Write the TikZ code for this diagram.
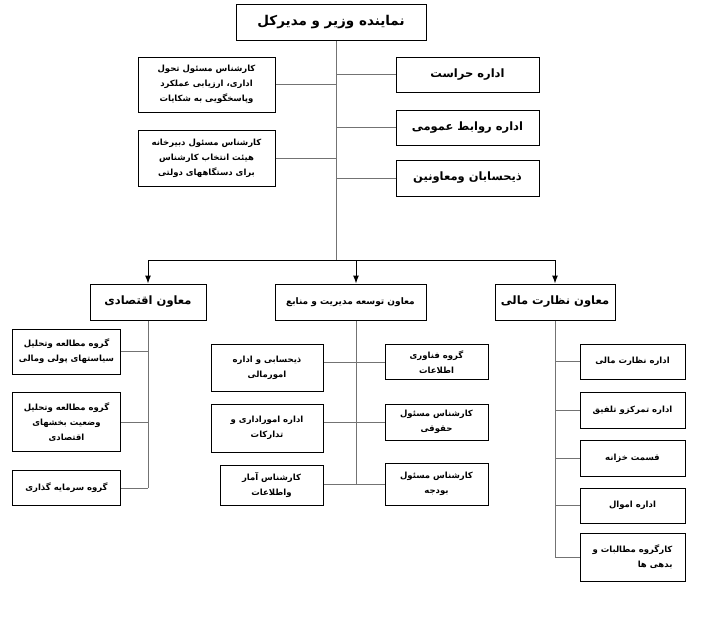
\documentclass[tikz,border=0pt]{standalone}
\usepackage{fontspec}
\usetikzlibrary{arrows.meta}
\newfontfamily\fafont[Script=Arabic]{DejaVu Sans}
\TeXXeTstate=1
\newcommand{\fa}[1]{\beginR #1\endR}
\tikzset{
  box/.style={draw, line width=1pt, align=center, inner sep=2pt},
  big/.style={font=\fafont\bfseries\fontsize{13.5}{16}\selectfont},
  mid/.style={font=\fafont\bfseries\fontsize{11.5}{15}\selectfont},
  small/.style={font=\fafont\bfseries\fontsize{8.5}{15}\selectfont},
  link/.style={draw=black!55, line width=1pt},
  bus/.style={draw=black, line width=1pt},
}

\begin{document}
\begin{tikzpicture}[x=1pt, y=-1pt]
\useasboundingbox (0,0) rectangle (705,621);

% Head
\node[box, big, minimum width=190pt, minimum height=36pt] (head) at (331,22) {\fa{نماینده وزیر و مدیرکل}};

% Staff on the left
\node[box, small, minimum width=137pt, minimum height=55pt] (tahavol) at (206.5,84.5)
  {\fa{کارشناس مسئول تحول}\\\fa{اداری، ارزیابی عملکرد}\\\fa{وپاسخگویی به شکایات}};
\node[box, small, minimum width=137pt, minimum height=56pt] (dabir) at (206.5,158)
  {\fa{کارشناس مسئول دبیرخانه}\\\fa{هیئت انتخاب کارشناس}\\\fa{برای دستگاههای دولتی}};

% Staff on the right
\node[box, mid, minimum width=143pt, minimum height=35pt] (herasat) at (467.5,74.5) {\fa{اداره حراست}};
\node[box, mid, minimum width=143pt, minimum height=35pt] (ravabet) at (467.5,127.5) {\fa{اداره روابط عمومی}};
\node[box, mid, minimum width=143pt, minimum height=36pt] (zihesab) at (467.5,178) {\fa{ذیحسابان ومعاونین}};

% Deputies
\node[box, mid, minimum width=116pt, minimum height=36pt] (eghtesadi) at (148,302) {\fa{معاون اقتصادی}};
\node[box, font=\fafont\bfseries\fontsize{9}{12}\selectfont, minimum width=151pt, minimum height=36pt] (tose) at (350.5,302) {\fa{معاون توسعه مدیریت و منابع}};
\node[box, mid, minimum width=120pt, minimum height=36pt] (nezarat) at (555,302) {\fa{معاون نظارت مالی}};

% Economic groups
\node[box, small, minimum width=108pt, minimum height=45pt] (motalee) at (66.5,351.5)
  {\fa{گروه مطالعه وتحلیل}\\\fa{سیاستهای پولی ومالی}};
\node[box, small, minimum width=108pt, minimum height=59pt] (vazeiat) at (66.5,422)
  {\fa{گروه مطالعه وتحلیل}\\\fa{وضعیت بخشهای}\\\fa{اقتصادی}};
\node[box, small, minimum width=108pt, minimum height=35pt] (sarmaye) at (66.5,488) {\fa{گروه سرمایه گذاری}};

% Management units
\node[box, small, minimum width=112pt, minimum height=47pt] (zihesabi) at (267,368)
  {\fa{ذیحسابی و اداره}\\\fa{امورمالی}};
\node[box, small, minimum width=112pt, minimum height=48pt] (omur) at (267,428)
  {\fa{اداره اموراداری و}\\\fa{تدارکات}};
\node[box, small, minimum width=103pt, minimum height=40pt] (amar) at (271.5,485)
  {\fa{کارشناس آمار}\\\fa{واطلاعات}};
\node[box, small, minimum width=103pt, minimum height=35pt] (fanavari) at (436.5,362)
  {\fa{گروه فناوری}\\\fa{اطلاعات}};
\node[box, small, minimum width=103pt, minimum height=36pt] (hoghughi) at (436.5,422)
  {\fa{کارشناس مسئول}\\\fa{حقوقی}};
\node[box, small, minimum width=103pt, minimum height=42pt] (budje) at (436.5,484)
  {\fa{کارشناس مسئول}\\\fa{بودجه}};

% Financial units
\node[box, small, minimum width=105pt, minimum height=35pt] (nezmali) at (632.5,361.5) {\fa{اداره نظارت مالی}};
\node[box, small, minimum width=105pt, minimum height=36pt] (tamarkoz) at (632.5,410) {\fa{اداره تمرکزو تلفیق}};
\node[box, small, minimum width=105pt, minimum height=36pt] (khazane) at (632.5,458) {\fa{قسمت خزانه}};
\node[box, small, minimum width=105pt, minimum height=35pt] (amval) at (632.5,505.5) {\fa{اداره اموال}};
\node[box, small, align=right, minimum width=105pt, minimum height=48pt] (motalebat) at (632.5,557)
  {\fa{کارگروه مطالبات و}\\\fa{بدهی ها}};

% Connectors
\coordinate (trunk) at (336,260);
\coordinate (midcol) at (356,260);
\draw[link] (head.south -| trunk) -- (trunk);
\foreach \n in {tahavol,dabir} \draw[link] (\n.east) -- (\n.east -| trunk);
\foreach \n in {herasat,ravabet,zihesab} \draw[link] (\n.west) -- (\n.west -| trunk);
\draw[bus] (eghtesadi.north |- trunk) -- (nezarat.north |- trunk);
\foreach \n in {eghtesadi,nezarat} \draw[bus,-{Latex[length=8pt,width=6pt]}] (\n.north |- trunk) -- (\n.north);
\draw[bus,-{Latex[length=8pt,width=6pt]}] (midcol) -- (midcol |- tose.north);

\draw[link] (eghtesadi.south) -- (eghtesadi.south |- sarmaye.east);
\foreach \n in {motalee,vazeiat,sarmaye} \draw[link] (\n.east) -- (\n.east -| eghtesadi.south);

\draw[link] (midcol |- tose.south) -- (midcol |- budje.west);
\foreach \a/\b in {zihesabi/fanavari,omur/hoghughi,amar/budje} \draw[link] (\a.east |- \b.west) -- (\b.west);

\draw[link] (nezarat.south) -- (nezarat.south |- motalebat.west);
\foreach \n in {nezmali,tamarkoz,khazane,amval,motalebat} \draw[link] (\n.west) -- (\n.west -| nezarat.south);
\end{tikzpicture}
\end{document}
